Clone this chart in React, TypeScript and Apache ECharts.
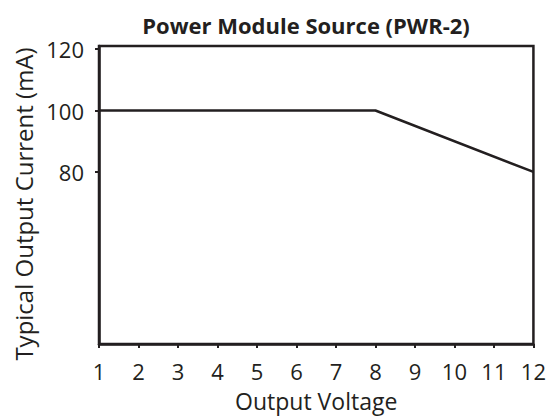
import React, { useEffect, useRef } from "react";
import * as echarts from "echarts";

const voltages = [1, 8, 12];
const currents = [100, 100, 80];
const yTickValues = [80, 100, 120];
const titleText = "Power Module Source (PWR-2)";
const xName = "Output Voltage";
const yName = "Typical Output Current (mA)";

const INK = "#231f20";
const FONT = "'Open Sans', 'Noto Sans', sans-serif";

export default function App() {
  const ref = useRef<HTMLDivElement>(null);
  useEffect(() => {
    if (!ref.current) return;
    const chart = echarts.init(ref.current, null, { renderer: "svg" });
    chart.setOption({
      animation: false,
      backgroundColor: "#ffffff",
      title: {
        text: titleText,
        left: 301,
        top: 9,
        textAlign: "center",
        textStyle: { fontFamily: FONT, fontWeight: "bold", fontSize: 22, color: INK },
      },
      grid: {
        left: 99,
        right: 12,
        top: 46,
        bottom: 67,
        show: true,
        borderColor: INK,
        borderWidth: 2.5,
        backgroundColor: "transparent",
      },
      xAxis: {
        type: "value",
        min: 1,
        max: 12,
        interval: 1,
        name: xName,
        nameLocation: "middle",
        nameGap: 45,
        nameTextStyle: { fontFamily: FONT, fontSize: 23, color: INK },
        axisLine: { show: true, lineStyle: { color: INK, width: 2.5 } },
        axisTick: { show: true, length: 4, lineStyle: { color: INK, width: 2 } },
        axisLabel: { fontFamily: FONT, fontSize: 22, color: INK, margin: 16 },
        splitLine: { show: false },
      },
      yAxis: {
        type: "value",
        min: 24,
        max: 121,
        name: yName,
        nameLocation: "middle",
        nameGap: 64,
        nameTextStyle: { fontFamily: FONT, fontSize: 24, color: INK, padding: [0, 18, 0, 0] },
        axisLine: { show: true, lineStyle: { color: INK, width: 2.5 } },
        axisTick: { show: true, length: 4, lineStyle: { color: INK, width: 2 }, customValues: yTickValues },
        axisLabel: { fontFamily: FONT, fontSize: 22, color: INK, margin: 15, customValues: yTickValues },
        splitLine: { show: false },
      },
      series: [
        {
          type: "line",
          data: voltages.map((v, i) => [v, currents[i]]),
          showSymbol: false,
          symbol: "none",
          lineStyle: { color: INK, width: 2.5 },
        },
      ],
    });
    return () => chart.dispose();
  }, []);
  return <div ref={ref} style={{ width: 549, height: 417, position: "absolute", left: 0, top: 0 }} />;
}
